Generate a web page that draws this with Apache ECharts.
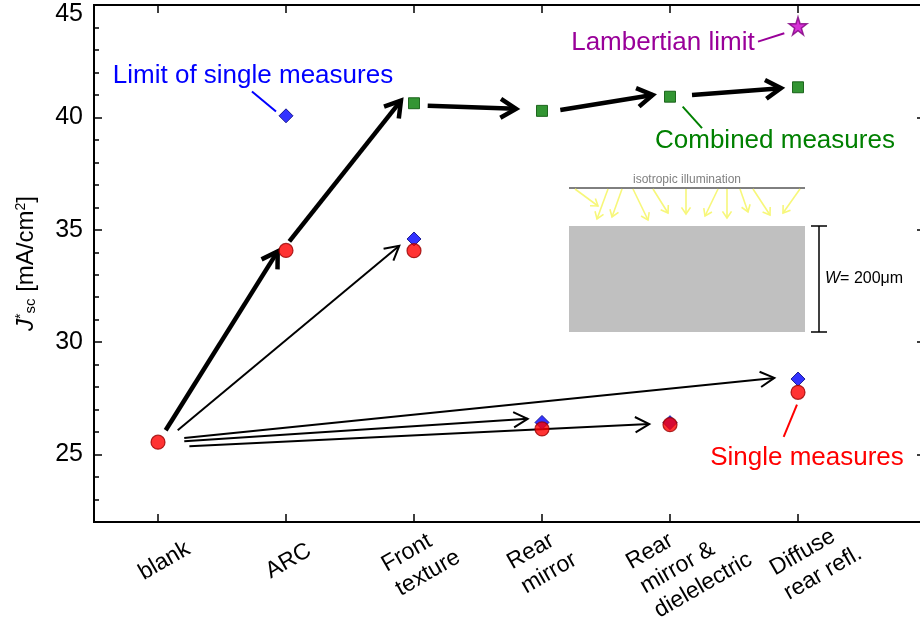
<!DOCTYPE html>
<html><head><meta charset="utf-8">
<script src="https://cdn.jsdelivr.net/npm/echarts@6/dist/echarts.min.js"></script>
<style>html,body{margin:0;padding:0;background:#fff}#c{width:920px;height:621px}</style>
</head><body><div id="c"></div>
<script>
// ---- data ----
const categories = ['blank', 'ARC', 'Front\ntexture', 'Rear\nmirror', 'Rear\nmirror &\ndielelectric', 'Diffuse\nrear refl.'];
const categoryIndex = [0, 1, 2, 3, 4, 5];
const singleMeasures = [25.55, 34.08, 34.07, 26.14, 26.33, 27.77];
const limitSingle = [null, 40.07, 34.59, 26.43, 26.42, 28.36];
const combinedMeasures = [null, null, 40.63, 40.29, 40.92, 41.34];
const lambertianLimit = [null, null, null, null, null, 44.07];
const yMajorTicks = [25, 30, 35, 40, 45];
// arrows: [xFrom, yFrom, xTo, yTo] in data units
const thickArrows = [
  [0.06, 26.08, 0.935, 34.04],
  [1.026, 34.48, 1.898, 40.75],
  [2.107, 40.52, 2.797, 40.38],
  [3.143, 40.33, 3.865, 41.0],
  [4.172, 41.0, 4.867, 41.30]
];
const thinArrows = [
  [0.154, 26.08, 1.885, 34.29],
  [0.205, 25.74, 4.815, 28.41],
  [0.205, 25.59, 2.888, 26.59],
  [0.245, 25.37, 3.838, 26.36]
];
// annotations: leader [x0,y0,x1,y1], text anchor [x,y]
const annotationTexts = ['Limit of single measures', 'Lambertian limit', 'Combined measures', 'Single measures'];
const annotationLeaders = [
  [0.734, 41.15, 0.922, 40.26, 0.742, 41.84],
  [4.6875, 43.37, 4.893, 43.74, 3.945, 43.31],
  [4.099, 40.48, 4.25, 39.52, 4.82, 38.96],
  [4.992, 27.22, 4.888, 25.79, 5.07, 24.87]
];
const annotationColors = ['#0000ff', '#990099', '#008000', '#ff0000'];

function pairs(arr) { return arr.map((v, i) => v == null ? null : [categoryIndex[i], v]).filter(d => d); }

const FONT = '"Liberation Sans", Arial, sans-serif';
// layout: small horizontal nudges of the rotated category labels (category units)
const labelNudge = [0.05, 0.02, 0.055, 0.0, 0.15, 0.14];

function arrowShape(p0, p1, L, ang) {
  const a = Math.atan2(p1[1] - p0[1], p1[0] - p0[0]);
  const h1 = [p1[0] - L * Math.cos(a - ang), p1[1] - L * Math.sin(a - ang)];
  const h2 = [p1[0] - L * Math.cos(a + ang), p1[1] - L * Math.sin(a + ang)];
  return { line: [p0, p1], head: [h1, p1, h2] };
}

function arrowRender(width, L, ang) {
  return function (params, api) {
    const p0 = api.coord([api.value(0), api.value(1)]);
    const p1 = api.coord([api.value(2), api.value(3)]);
    const s = arrowShape(p0, p1, L, ang);
    return {
      type: 'group', children: [
        { type: 'line', shape: { x1: p0[0], y1: p0[1], x2: p1[0], y2: p1[1] }, style: { stroke: '#000', lineWidth: width } },
        { type: 'polyline', shape: { points: s.head }, style: { stroke: '#000', lineWidth: width, fill: null, lineJoin: 'miter' } }
      ]
    };
  };
}

// inset decoration (pixel space illustration)
const insetArrows = [
  [575, 189, 598, 206], [608, 189, 597, 219], [622, 189, 612, 217], [633, 189, 648, 220],
  [653, 189, 668, 213], [686, 189, 686, 214], [718, 189, 705, 216], [727, 189, 727, 218],
  [740, 189, 748, 212], [753, 189, 770, 215], [800, 189, 783, 213]
];
const graphics = [];
graphics.push({ type: 'rect', shape: { x: 569, y: 226, width: 236, height: 106 }, style: { fill: '#c0c0c0' }, z: 1 });
graphics.push({ type: 'line', shape: { x1: 569, y1: 188, x2: 805, y2: 188 }, style: { stroke: '#000', lineWidth: 1 }, z: 1 });
graphics.push({ type: 'text', x: 687, y: 180, style: { text: 'isotropic illumination', fontSize: 12, fontFamily: FONT, fill: '#808080', align: 'center', verticalAlign: 'middle' }, z: 1 });
insetArrows.forEach(a => {
  const s = arrowShape([a[0], a[1]], [a[2], a[3]], 8, 0.6);
  graphics.push({ type: 'line', shape: { x1: a[0], y1: a[1], x2: a[2], y2: a[3] }, style: { stroke: '#f7f77a', lineWidth: 1.6 }, z: 1 });
  graphics.push({ type: 'polyline', shape: { points: s.head }, style: { stroke: '#f7f77a', lineWidth: 1.6, fill: null }, z: 1 });
});
graphics.push({ type: 'line', shape: { x1: 819, y1: 226, x2: 819, y2: 332 }, style: { stroke: '#000', lineWidth: 1.5 }, z: 1 });
graphics.push({ type: 'line', shape: { x1: 811, y1: 226, x2: 827, y2: 226 }, style: { stroke: '#000', lineWidth: 1.5 }, z: 1 });
graphics.push({ type: 'line', shape: { x1: 811, y1: 332, x2: 827, y2: 332 }, style: { stroke: '#000', lineWidth: 1.5 }, z: 1 });
graphics.push({ type: 'text', x: 825, y: 279, style: { text: '{w|W}= 200μm', fontSize: 16, fontFamily: FONT, fill: '#000', verticalAlign: 'middle', rich: { w: { fontStyle: 'italic', fontSize: 16, fontFamily: FONT } } }, z: 1 });

const xBase = {
  type: 'value', min: -0.5, max: 6, splitLine: { show: false },
  axisLine: { show: true, onZero: false, lineStyle: { color: '#000', width: 2 } },
  axisTick: { show: true, inside: true, length: 8, customValues: categoryIndex, lineStyle: { color: '#000', width: 1.5 } }
};
const yBase = {
  type: 'value', min: 22, max: 45, splitLine: { show: false },
  axisLine: { show: true, onZero: false, lineStyle: { color: '#000', width: 2 } }
};

const option = {
  backgroundColor: '#fff',
  animation: false,
  grid: { left: 94, top: 5, width: 832, height: 517, outerBoundsMode: 'none', containLabel: false },
  graphic: graphics,
  xAxis: [
    Object.assign({}, xBase, {
      position: 'bottom',
      axisLabel: {
        customValues: categoryIndex.map(i => i + labelNudge[i]), rotate: 30, align: 'center', verticalAlign: 'middle', margin: 39,
        fontSize: 23, lineHeight: 28, color: '#000', fontFamily: FONT,
        formatter: v => categories[Math.round(v)].split('\n').map(s => '{a|' + s + '}').join('\n'),
        rich: { a: { align: 'left', fontSize: 23, lineHeight: 28, color: '#000', fontFamily: FONT } }
      }
    }),
    Object.assign({}, xBase, { position: 'top', axisLabel: { show: false } })
  ],
  yAxis: [
    Object.assign({}, yBase, {
      position: 'left',
      axisTick: { show: true, inside: true, length: 8, customValues: yMajorTicks, lineStyle: { color: '#000', width: 1.5 } },
      axisLabel: {
        customValues: yMajorTicks, fontSize: 25, color: '#000', fontFamily: FONT, margin: 11,
        formatter: v => v === 45 ? '{t|45}' : String(v),
        rich: { t: { fontSize: 25, color: '#000', fontFamily: FONT, padding: [18, 0, 0, 0] } }
      },
      name: '{j|J}{sup|*}{sub|sc} [mA/cm{sup|2}]',
      nameLocation: 'middle', nameRotate: 90, nameGap: 56,
      nameTextStyle: {
        fontSize: 24, color: '#000', fontFamily: FONT,
        rich: {
          j: { fontSize: 24, fontStyle: 'italic', fontFamily: FONT, color: '#000' },
          sup: { fontSize: 14, verticalAlign: 'top', fontFamily: FONT, color: '#000' },
          sub: { fontSize: 15, verticalAlign: 'bottom', fontFamily: FONT, color: '#000' }
        }
      }
    }),
    Object.assign({}, yBase, {
      position: 'left', interval: 1,
      axisTick: { show: true, inside: true, length: 5, lineStyle: { color: '#000', width: 1.5 } },
      axisLabel: { show: false }
    }),
    Object.assign({}, yBase, {
      position: 'right',
      axisTick: { show: true, inside: true, length: 9, customValues: yMajorTicks, lineStyle: { color: '#000', width: 1.5 } },
      axisLabel: { show: false }
    })
  ],
  series: [
    {
      type: 'custom', name: 'thin arrows', renderItem: arrowRender(2, 16, 0.5), data: thinArrows,
      encode: { x: [0, 2], y: [1, 3] }, z: 3, silent: true
    },
    {
      type: 'custom', name: 'thick arrows', renderItem: arrowRender(4.5, 18, 0.55), data: thickArrows,
      encode: { x: [0, 2], y: [1, 3] }, z: 3, silent: true
    },
    {
      type: 'custom', name: 'annotations', data: annotationLeaders, encode: { x: [0, 2, 4], y: [1, 3, 5] }, z: 4, silent: true,
      renderItem: function (params, api) {
        const i = params.dataIndex;
        const p0 = api.coord([api.value(0), api.value(1)]);
        const p1 = api.coord([api.value(2), api.value(3)]);
        const t = api.coord([api.value(4), api.value(5)]);
        return {
          type: 'group', children: [
            { type: 'line', shape: { x1: p0[0], y1: p0[1], x2: p1[0], y2: p1[1] }, style: { stroke: annotationColors[i], lineWidth: 2 } },
            { type: 'text', x: t[0], y: t[1], style: { text: annotationTexts[i], fill: annotationColors[i], fontSize: 26, fontFamily: FONT, align: 'center', verticalAlign: 'middle' } }
          ]
        };
      }
    },
    {
      type: 'scatter', name: 'Limit of single measures', data: pairs(limitSingle), symbol: 'diamond', symbolSize: 14,
      itemStyle: { color: '#0000ff', borderColor: '#00007a', borderWidth: 1 }, z: 5
    },
    {
      type: 'scatter', name: 'Single measures', data: pairs(singleMeasures), symbol: 'circle', symbolSize: 14,
      itemStyle: { color: '#ff0000', borderColor: '#990000', borderWidth: 1.2 }, z: 6
    },
    {
      type: 'scatter', name: 'Combined measures', data: pairs(combinedMeasures), symbol: 'rect', symbolSize: 11,
      itemStyle: { color: '#007a00', borderColor: '#004d00', borderWidth: 1 }, z: 6
    },
    {
      type: 'scatter', name: 'Lambertian limit', data: pairs(lambertianLimit),
      symbol: 'path://M50,0 L61,35 L98,35 L68,57 L79,91 L50,70 L21,91 L32,57 L2,35 L39,35 Z', symbolSize: 18,
      itemStyle: { color: '#cc00cc', borderColor: '#800080', borderWidth: 1.5 }, z: 6
    }
  ]
};
const chart = echarts.init(document.getElementById('c'), null, { renderer: 'canvas' });
chart.setOption(option);
</script></body></html>
